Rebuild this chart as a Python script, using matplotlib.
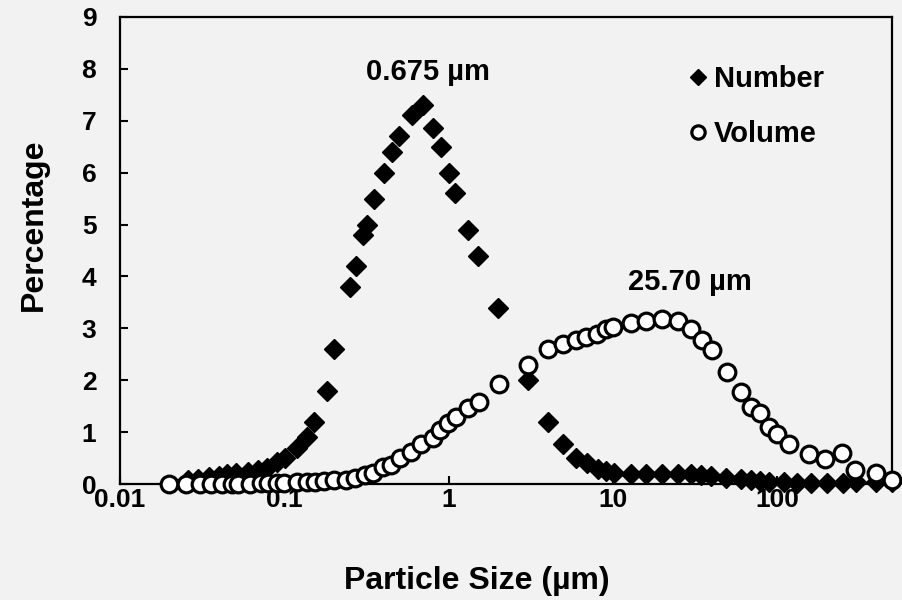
import matplotlib.pyplot as plt
from matplotlib.ticker import FixedLocator, FixedFormatter

# particle size distribution
num_x = [0.026, 0.030, 0.035, 0.040, 0.0445, 0.051, 0.060, 0.069, 0.078, 0.090,
         0.101, 0.119, 0.138, 0.152, 0.181, 0.201, 0.25, 0.272, 0.301, 0.319,
         0.353, 0.403, 0.45, 0.50, 0.60, 0.70, 0.80, 0.90, 1.0, 1.1,
         1.31, 1.51, 2.0, 3.03, 4.0, 4.96, 5.97, 7.0, 8.1, 9.1,
         10.2, 12.9, 15.9, 19.9, 24.8, 29.9, 34.4, 39.5, 49, 60,
         69, 79, 89, 110, 132, 160, 200, 250, 300, 400, 500]
num_y = [0.08, 0.1, 0.13, 0.16, 0.19, 0.21, 0.24, 0.28, 0.32, 0.42,
         0.5, 0.7, 0.9, 1.2, 1.8, 2.6, 3.8, 4.2, 4.8, 5.0,
         5.5, 6.0, 6.4, 6.7, 7.1, 7.3, 6.85, 6.5, 6.0, 5.6,
         4.9, 4.4, 3.4, 2.0, 1.2, 0.78, 0.5, 0.4, 0.3, 0.25,
         0.22, 0.2, 0.2, 0.2, 0.2, 0.2, 0.18, 0.16, 0.12, 0.1,
         0.08, 0.07, 0.05, 0.04, 0.03, 0.03, 0.03, 0.03, 0.04, 0.04, 0.05]

vol_x = [0.020, 0.0254, 0.0306, 0.036, 0.0415, 0.048, 0.052, 0.062, 0.072, 0.080,
         0.090, 0.10, 0.12, 0.137, 0.154, 0.174, 0.20, 0.239, 0.268, 0.309,
         0.347, 0.398, 0.449, 0.504, 0.593, 0.682, 0.803, 0.881, 0.991, 1.11,
         1.31, 1.53, 2.02, 3.03, 4.0, 4.97, 5.95, 6.9, 7.96, 9.1,
         10.0, 12.9, 15.9, 19.9, 25.0, 29.9, 34.7, 39.9, 49.3, 60.2,
         69.2, 79, 88.9, 100, 118, 156, 196, 248, 298, 397, 500]
vol_y = [0.0, 0.0, 0.0, 0.0, 0.0, 0.0, 0.01, 0.01, 0.02, 0.02,
         0.03, 0.03, 0.04, 0.04, 0.05, 0.06, 0.08, 0.08, 0.11, 0.17,
         0.21, 0.33, 0.37, 0.5, 0.62, 0.78, 0.88, 1.04, 1.17, 1.3,
         1.46, 1.59, 1.93, 2.29, 2.6, 2.69, 2.77, 2.83, 2.9, 2.98,
         3.03, 3.1, 3.15, 3.18, 3.15, 2.98, 2.77, 2.58, 2.16, 1.78,
         1.49, 1.37, 1.10, 0.97, 0.78, 0.59, 0.48, 0.60, 0.28, 0.21, 0.08]

x_ticks = [0.01, 0.1, 1, 10, 100]
x_tick_labels = ['0.01', '0.1', '1', '10', '100']
y_ticks = list(range(0, 10))

peak_labels = ['0.675 µm', '25.70 µm']

plt.rcParams['font.family'] = ['Liberation Sans', 'DejaVu Sans']
plt.rcParams['font.weight'] = 'bold'

bg = '#f2f2f2'
fig = plt.figure(figsize=(9.02, 6), dpi=100, facecolor=bg)
ax = fig.add_axes([0.133, 0.193, 0.856, 0.779], facecolor=bg)

ax.plot(num_x, num_y, linestyle='none', marker='D', ms=10, color='black',
        label='Number', clip_on=False, zorder=3)
ax.plot(vol_x, vol_y, linestyle='none', marker='o', ms=12, mfc='white',
        mec='black', mew=2.3, label='Volume', clip_on=False, zorder=4)

ax.set_xscale('log')
ax.set_xlim(0.01, 500)
ax.set_ylim(0, 9)
ax.xaxis.set_major_locator(FixedLocator(x_ticks))
ax.xaxis.set_major_formatter(FixedFormatter(x_tick_labels))
ax.xaxis.set_minor_locator(FixedLocator([]))
ax.set_yticks(y_ticks)

for s in ax.spines.values():
    s.set_linewidth(1.6)
    s.set_color('black')
ax.tick_params(axis='both', direction='in', length=6, width=1.5, labelsize=19)
ax.tick_params(axis='y', pad=17)
ax.tick_params(axis='x', pad=3)

ax.set_xlabel('Particle Size (µm)', fontsize=23, fontweight='bold')
ax.set_ylabel('Percentage', fontsize=23, fontweight='bold')
ax.xaxis.set_label_coords(0.462, -0.174)
ax.yaxis.set_label_coords(-0.092, 0.555)

ax.text(0.745, 7.94, peak_labels[0], ha='center', va='center', fontsize=21, fontweight='bold')
ax.text(29.2, 3.89, peak_labels[1], ha='center', va='center', fontsize=21, fontweight='bold')

leg = ax.legend(loc='upper left', bbox_to_anchor=(0.718, 0.928), frameon=False,
                fontsize=21, handlelength=0.6, handletextpad=0.25,
                labelspacing=0.93, markerscale=0.8, borderpad=0)

fig.savefig('out.png', dpi=100, facecolor=bg)
